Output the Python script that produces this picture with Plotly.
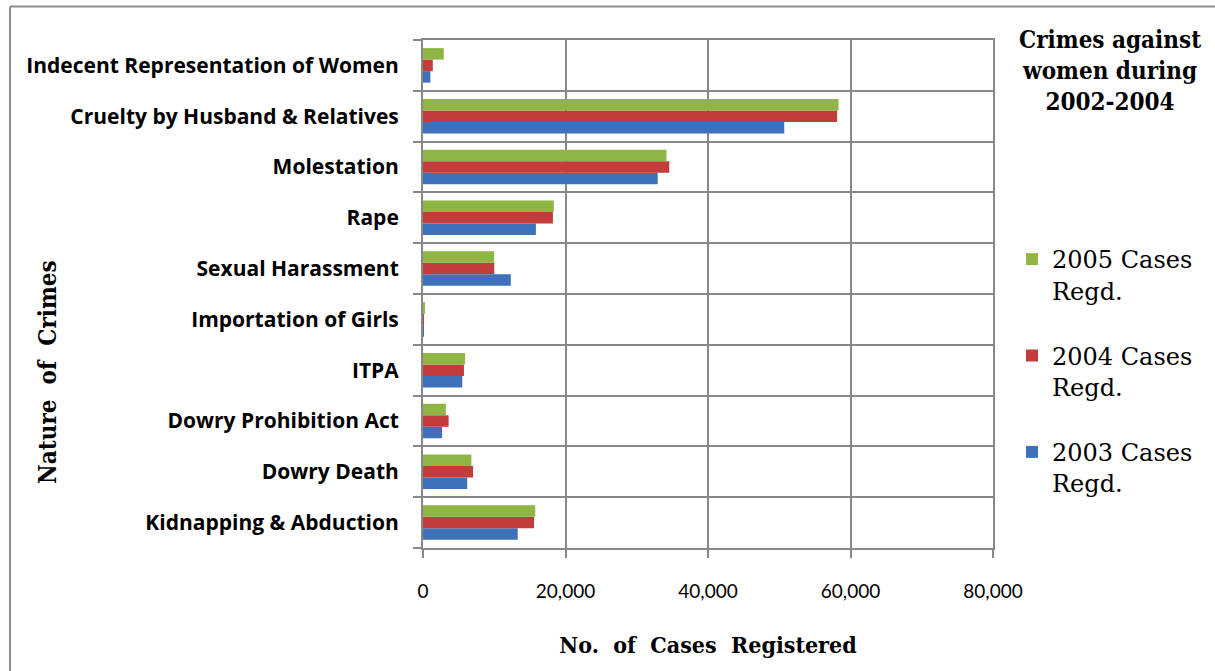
import plotly.graph_objects as go

# Crime heads, bottom to top as they appear on the category axis
crimes = [
    "Kidnapping & Abduction",
    "Dowry Death",
    "Dowry Prohibition Act",
    "ITPA",
    "Importation of Girls",
    "Sexual Harassment",
    "Rape",
    "Molestation",
    "Cruelty by Husband & Relatives",
    "Indecent Representation of Women",
]

cases_2003 = [13296, 6208, 2684, 5510, 46, 12325, 15847, 32939, 50703, 1043]
cases_2004 = [15578, 7026, 3592, 5748, 89, 10001, 18233, 34567, 58121, 1378]
cases_2005 = [15750, 6787, 3204, 5908, 149, 9984, 18359, 34175, 58319, 2917]

series_names = ["2003 Cases<br>Regd.", "2004 Cases<br>Regd.", "2005 Cases<br>Regd."]
series_colors = ["#3D72BA", "#C13C3A", "#8FB545"]
legend_ranks = [3, 2, 1]   # newest year listed first

x_ticks = [0, 20000, 40000, 60000, 80000]

# page geometry (pixels) of the plotting area
W, H = 1215, 671
L, R, T, B = 423, 993, 40, 548
GRID = "#878787"


def px_x(x):
    return (x - L) / (R - L)


def px_y(y):
    return (B - y) / (B - T)


fig = go.Figure()
for name, vals, col, rank in zip(series_names, [cases_2003, cases_2004, cases_2005],
                                 series_colors, legend_ranks):
    fig.add_trace(go.Bar(
        y=crimes, x=vals, name=name, orientation="h",
        marker=dict(color=col, line=dict(width=0)),
        legendgroup=name, legendrank=rank,
    ))

serif_bold = "DejaVu Serif Condensed, Liberation Serif, serif"
serif = "DejaVu Serif, Liberation Serif, serif"
sans = "Lato"
sans_bold = "Open Sans"

fig.update_layout(
    width=W, height=H,
    margin=dict(l=L, r=W - R, t=T, b=H - B, pad=0),
    paper_bgcolor="white", plot_bgcolor="white",
    barmode="group", bargap=0.32, bargroupgap=0,
    showlegend=True,
    legend=dict(
        x=px_x(1012), y=px_y(237), xanchor="left", yanchor="top",
        traceorder="grouped", tracegroupgap=31, valign="top",
        font=dict(family=serif, size=24, color="#000000"),
        bgcolor="rgba(0,0,0,0)",
    ),
    xaxis=dict(
        range=[0, 80000], tickvals=x_ticks, tickformat=",",
        showgrid=True, gridcolor=GRID, gridwidth=2,
        showline=True, linecolor=GRID, linewidth=2, mirror=True,
        ticks="outside", ticklen=8, tickwidth=2, tickcolor=GRID,
        ticklabelstandoff=17,
        tickfont=dict(family=sans, size=19, color="#000000"),
        zeroline=False,
        title=dict(
            text="<b>No.  of  Cases  Registered</b>",
            font=dict(family=serif_bold, size=23, color="#000000"),
            standoff=36,
        ),
    ),
    yaxis=dict(
        type="category", tickson="boundaries",
        showgrid=True, gridcolor=GRID, gridwidth=2,
        showline=True, linecolor=GRID, linewidth=2, mirror=True,
        ticks="outside", ticklen=8, tickwidth=2, tickcolor=GRID,
        ticklabelstandoff=18,
        tickfont=dict(family=sans_bold, size=21, color="#000000", weight="bold"),
    ),
    annotations=[
        dict(
            text="<b>Crimes against<br>women during<br>2002-2004</b>",
            x=px_x(1110), y=px_y(23), xref="paper", yref="paper",
            xanchor="center", yanchor="top", showarrow=False,
            font=dict(family=serif_bold, size=24, color="#000000"),
        ),
        dict(
            text="<b>Nature  of  Crimes</b>", textangle=-90,
            x=px_x(47), y=px_y(372), xref="paper", yref="paper",
            xanchor="center", yanchor="middle", showarrow=False,
            font=dict(family=serif_bold, size=24, color="#000000"),
        ),
    ],
    shapes=[
        # chart-area frame: top edge and left edge
        dict(type="line", xref="paper", yref="paper",
             x0=px_x(10), x1=px_x(W + 5), y0=px_y(6.5), y1=px_y(6.5),
             line=dict(color="#8C8C8C", width=2)),
        dict(type="line", xref="paper", yref="paper",
             x0=px_x(10), x1=px_x(10), y0=px_y(6.5), y1=px_y(H + 5),
             line=dict(color="#8C8C8C", width=2)),
    ],
)

fig.write_html("out.html")
